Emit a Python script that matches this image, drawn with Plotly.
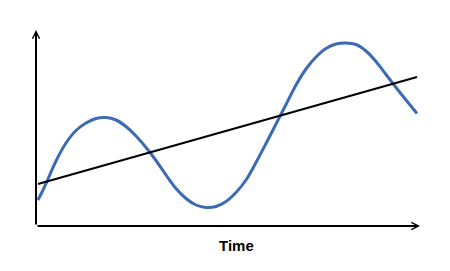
import plotly.graph_objects as go

# Time axis (arbitrary units) and series values
time_blue = [2, 7, 12, 20, 30, 40, 50, 60, 70, 80, 90, 100, 110, 120, 130, 140, 150, 160, 170,
             180, 190, 200, 210, 220, 230, 240, 250, 260, 270, 280, 290, 300, 310, 320, 330,
             340, 350, 360, 370, 381]
value_blue = [26, 36, 47, 65, 83, 95.5, 103, 107.5, 108.5, 106, 99.5, 90, 78.5, 65.5, 51, 37.5, 27.5, 21, 18.5,
              19.5, 24.5, 33.5, 46, 63.5, 82.5, 102, 121.5, 141, 157, 169, 177.5, 182, 183, 181.5, 175,
              164.5, 151.5, 138.5, 126, 112.5]

time_trend = [2, 381]
value_trend = [42, 149]

x_label = "Time"
x_max = 384
y_max = 196

fig = go.Figure()
fig.add_trace(go.Scatter(
    x=time_blue, y=value_blue, mode="lines",
    line=dict(color="#3d6bb3", width=3, shape="spline", smoothing=0.8),
    hoverinfo="skip", showlegend=False,
))
fig.add_trace(go.Scatter(
    x=time_trend, y=value_trend, mode="lines",
    line=dict(color="#000000", width=2),
    hoverinfo="skip", showlegend=False,
))

# axes with arrows
fig.add_annotation(x=x_max, y=0, ax=0, ay=0, xref="x", yref="y", axref="x", ayref="y",
                   showarrow=True, arrowhead=5, arrowwidth=2, arrowsize=0.7,
                   arrowcolor="#000000", text="", standoff=0)
fig.add_annotation(x=0, y=y_max, ax=0, ay=0, xref="x", yref="y", axref="x", ayref="y",
                   showarrow=True, arrowhead=5, arrowwidth=2, arrowsize=0.7,
                   arrowcolor="#000000", text="", standoff=0)
fig.add_annotation(x=200, y=-0.097, xref="x", yref="paper", text="<b>" + x_label + "</b>",
                   showarrow=False, xanchor="center", yanchor="middle",
                   font=dict(family="Liberation Sans, Arial", size=15, color="#000000"))

fig.update_layout(
    width=450, height=271,
    margin=dict(l=36, r=30, t=30, b=45, pad=0),
    paper_bgcolor="white", plot_bgcolor="white",
    xaxis=dict(range=[0, x_max], visible=False, fixedrange=True),
    yaxis=dict(range=[0, y_max], visible=False, fixedrange=True),
)

fig.write_html("out.html", config={"displayModeBar": False})
